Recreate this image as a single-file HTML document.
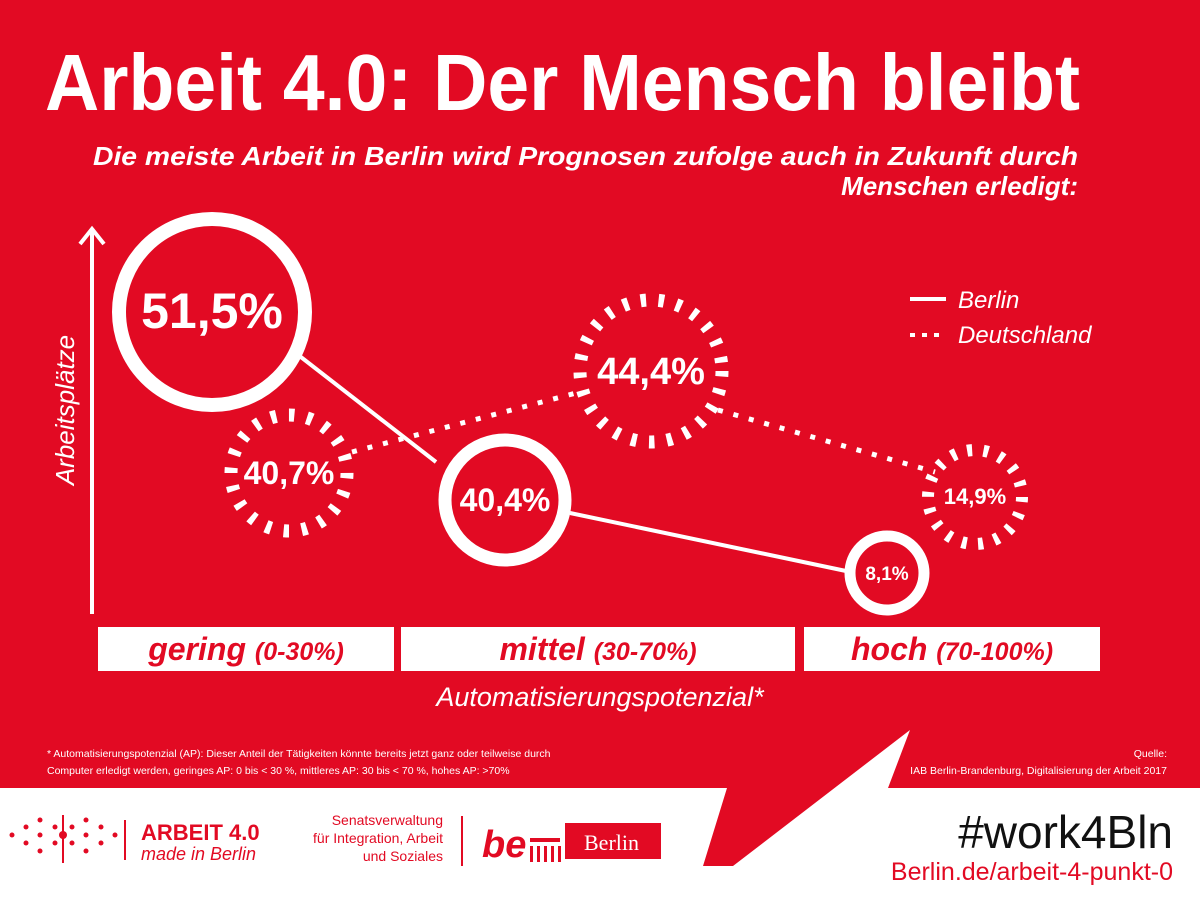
<!DOCTYPE html>
<html><head><meta charset="utf-8"><style>
html,body{margin:0;padding:0;width:1200px;height:900px;overflow:hidden;background:#fff}
svg{display:block}
.n{font-family:"Liberation Sans Narrow","Liberation Sans",sans-serif}
</style></head><body>
<svg width="1200" height="900" viewBox="0 0 1200 900" xmlns="http://www.w3.org/2000/svg">
<polygon points="0,0 1200,0 1200,788 888,788 910,730 733,866 703,866 727,788 0,788" fill="#e20a23"/>
<g class="n" fill="#fff">
<text x="45" y="110" font-size="80" font-weight="bold" textLength="1035" lengthAdjust="spacingAndGlyphs">Arbeit 4.0: Der Mensch bleibt</text>
<text x="1078" y="165" font-size="26" font-weight="bold" font-style="italic" text-anchor="end" textLength="985" lengthAdjust="spacingAndGlyphs">Die meiste Arbeit in Berlin wird Prognosen zufolge auch in Zukunft durch</text>
<text x="1078" y="195" font-size="26" font-weight="bold" font-style="italic" text-anchor="end">Menschen erledigt:</text>
</g>
<!-- axis -->
<g stroke="#fff" stroke-width="4" fill="none">
<line x1="92" y1="614" x2="92" y2="230"/>
<polyline points="80,244 92,229 104,244"/>
</g>
<text class="n" transform="translate(74,410) rotate(-90)" text-anchor="middle" fill="#fff" font-size="26" font-style="italic">Arbeitsplätze</text>
<!-- lines -->
<g stroke="#fff" stroke-width="4" fill="none">
<line x1="297" y1="354" x2="436" y2="462"/>
<line x1="570" y1="513" x2="846" y2="571"/>
<line x1="352" y1="452" x2="580" y2="392" stroke-width="5" stroke-dasharray="5 11"/>
<line x1="718" y1="410" x2="935" y2="472" stroke-width="5" stroke-dasharray="5 11"/>
</g>
<!-- circles -->
<g fill="none" stroke="#fff">
<circle cx="212" cy="312" r="93" stroke-width="14"/>
<circle cx="505" cy="500" r="60" stroke-width="13"/>
<circle cx="887" cy="573" r="37" stroke-width="11"/>
<circle cx="289" cy="473" r="58" stroke-width="13" stroke-dasharray="5.5 12.7"/>
<circle cx="651" cy="371" r="71" stroke-width="13" stroke-dasharray="5.5 12.5"/>
<circle cx="975" cy="497" r="47" stroke-width="12" stroke-dasharray="5 11.4"/>
</g>
<g class="n" fill="#fff" font-weight="bold" text-anchor="middle">
<text x="212" y="328" font-size="50">51,5%</text>
<text x="289" y="484" font-size="32">40,7%</text>
<text x="505" y="511" font-size="32">40,4%</text>
<text x="651" y="384" font-size="38">44,4%</text>
<text x="887" y="580" font-size="19">8,1%</text>
<text x="975" y="504" font-size="22">14,9%</text>
</g>
<!-- legend -->
<line x1="910" y1="299" x2="946" y2="299" stroke="#fff" stroke-width="4"/>
<line x1="910" y1="335" x2="946" y2="335" stroke="#fff" stroke-width="4" stroke-dasharray="5 7"/>
<g class="n" fill="#fff" font-size="24" font-style="italic">
<text x="958" y="308">Berlin</text>
<text x="958" y="343">Deutschland</text>
</g>
<!-- category boxes -->
<g fill="#fff">
<rect x="98" y="627" width="296" height="44"/>
<rect x="401" y="627" width="394" height="44"/>
<rect x="804" y="627" width="296" height="44"/>
</g>
<g class="n" fill="#e20a23" font-weight="bold" font-style="italic" text-anchor="middle">
<text x="246" y="660" font-size="32">gering <tspan font-size="25">(0-30%)</tspan></text>
<text x="598" y="660" font-size="32">mittel <tspan font-size="25">(30-70%)</tspan></text>
<text x="952" y="660" font-size="32">hoch <tspan font-size="25">(70-100%)</tspan></text>
</g>
<text class="n" x="600" y="706" text-anchor="middle" fill="#fff" font-size="27" font-style="italic">Automatisierungspotenzial*</text>
<g class="n" fill="#fff" font-size="10.5">
<text x="47" y="757">* Automatisierungspotenzial (AP): Dieser Anteil der Tätigkeiten könnte bereits jetzt ganz oder teilweise durch</text>
<text x="47" y="774">Computer erledigt werden, geringes AP: 0 bis &lt; 30 %, mittleres AP: 30 bis &lt; 70 %, hohes AP: &gt;70%</text>
<text x="1167" y="757" text-anchor="end">Quelle:</text>
<text x="1167" y="774" text-anchor="end">IAB Berlin-Brandenburg, Digitalisierung der Arbeit 2017</text>
</g>
<!-- footer -->
<g fill="#e20a23">
<circle cx="12" cy="835" r="2.5"/><circle cx="26" cy="827" r="2.5"/><circle cx="26" cy="843" r="2.5"/>
<circle cx="40" cy="820" r="2.5"/><circle cx="40" cy="835" r="2.5"/><circle cx="40" cy="851" r="2.5"/>
<circle cx="55" cy="827" r="2.5"/><circle cx="55" cy="843" r="2.5"/>
<rect x="62" y="815" width="2" height="48"/><circle cx="63" cy="835" r="4"/>
<circle cx="72" cy="827" r="2.5"/><circle cx="72" cy="843" r="2.5"/>
<circle cx="86" cy="820" r="2.5"/><circle cx="86" cy="835" r="2.5"/><circle cx="86" cy="851" r="2.5"/>
<circle cx="101" cy="827" r="2.5"/><circle cx="101" cy="843" r="2.5"/><circle cx="115" cy="835" r="2.5"/>
<rect x="124" y="820" width="2" height="40"/>
<rect x="461" y="816" width="2" height="50"/>
<rect x="565" y="823" width="96" height="36"/>
<rect x="530" y="838" width="30" height="4"/>
<rect x="530" y="846" width="3" height="16"/><rect x="537" y="846" width="3" height="16"/><rect x="544" y="846" width="3" height="16"/><rect x="551" y="846" width="3" height="16"/><rect x="558" y="846" width="3" height="16"/>
</g>
<g class="n" fill="#e20a23">
<text x="141" y="840" font-size="22" font-weight="bold">ARBEIT 4.0</text>
<text x="141" y="860" font-size="18" font-style="italic">made in Berlin</text>
<text x="443" y="825" font-size="14" text-anchor="end">Senatsverwaltung</text>
<text x="443" y="843" font-size="14" text-anchor="end">für Integration, Arbeit</text>
<text x="443" y="861" font-size="14" text-anchor="end">und Soziales</text>
<text x="482" y="857" font-size="38" font-weight="bold" font-style="italic">be</text>
<text x="1173" y="880" font-size="25" text-anchor="end">Berlin.de/arbeit-4-punkt-0</text>
</g>
<text x="584" y="850" font-family="Liberation Serif,serif" font-size="22" fill="#fff">Berlin</text>
<text class="n" x="1173" y="848" font-size="46" fill="#111" text-anchor="end">#work4Bln</text>
</svg>
</body></html>
